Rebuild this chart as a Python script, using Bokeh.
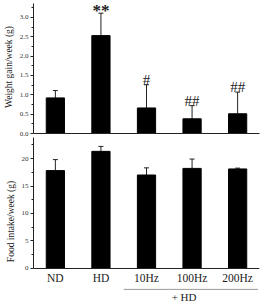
from bokeh.plotting import figure
from bokeh.layouts import column
from bokeh.models import (ColumnDataSource, Range1d, FixedTicker, Whisker, TeeHead,
                          Span, NumeralTickFormatter)
from bokeh.core.properties import value
from bokeh.embed import file_html
from bokeh.resources import INLINE

# ---- data ----
groups = ["ND", "HD", "10Hz", "100Hz", "200Hz"]
weight_gain = [0.92, 2.53, 0.66, 0.38, 0.51]
weight_err = [0.19, 0.58, 0.60, 0.34, 0.56]
weight_marks = ["", "**", "#", "##", "##"]
food_intake = [17.8, 21.3, 17.0, 18.2, 18.1]
food_err = [2.0, 0.9, 1.3, 1.7, 0.15]
weight_ticks = [0.0, 0.5, 1.0, 1.5, 2.0, 2.5, 3.0]
food_ticks = [0, 5, 10, 15, 20]
group_label = "+ HD"
group_members = ["10Hz", "100Hz", "200Hz"]

FONT = "Liberation Serif"
INK = "#222222"
xs = list(range(len(groups)))


def style(p, ticks, minor, top):
    p.outline_line_color = None
    p.xgrid.visible = False
    p.ygrid.visible = False
    p.yaxis.ticker = FixedTicker(ticks=ticks, minor_ticks=minor)
    p.yaxis.bounds = (0, top)
    p.yaxis.major_tick_out = 3
    p.yaxis.major_tick_in = 0
    p.yaxis.minor_tick_out = 2
    p.yaxis.minor_tick_in = 0
    p.yaxis.major_label_text_font = FONT
    p.yaxis.major_label_text_font_size = "7px"
    p.yaxis.major_label_text_color = "#333333"
    p.yaxis.major_label_standoff = 2
    p.yaxis.axis_label_text_font = FONT
    p.yaxis.axis_label_text_font_size = "9.5px"
    p.yaxis.axis_label_text_font_style = "normal"
    p.yaxis.axis_label_text_color = INK
    p.yaxis.axis_label_standoff = 3
    p.axis.axis_line_color = INK
    p.axis.major_tick_line_color = INK
    p.axis.minor_tick_line_color = INK


# ---- top panel: weight gain ----
upper1 = [v + e for v, e in zip(weight_gain, weight_err)]
src1 = ColumnDataSource(dict(x=xs, top=weight_gain, upper=upper1))
stars = [i for i, m in enumerate(weight_marks) if m.startswith("*")]
hashes = [i for i, m in enumerate(weight_marks) if m.startswith("#")]

W_TOP = 3.36
p1 = figure(width=260, height=137, x_range=Range1d(-0.48, 4.48),
            y_range=Range1d(0, W_TOP + 3 / 38.67),
            output_backend="svg", toolbar_location=None,
            min_border_left=33, min_border_right=1, min_border_top=0, min_border_bottom=4)
p1.vbar(x="x", top="top", width=0.4, bottom=0, color="black", source=src1)
p1.add_layout(Whisker(base="x", lower="top", upper="upper", source=src1,
                      upper_head=TeeHead(size=5, line_width=1, line_color=INK),
                      lower_head=None, line_width=1, line_color=INK))
p1.text(x=[xs[i] for i in stars], y=[upper1[i] for i in stars],
        text=[weight_marks[i] for i in stars], text_align="center",
        text_baseline="middle", y_offset=-3, text_font=value(FONT),
        text_font_size="17px", text_font_style="bold", text_color=INK)
p1.text(x=[xs[i] for i in hashes], y=[upper1[i] for i in hashes],
        text=[weight_marks[i] for i in hashes], text_align="center",
        text_baseline="alphabetic", y_offset=-5, text_font=value(FONT),
        text_font_size="15px", text_color=INK)
style(p1, weight_ticks, [0.25, 0.75, 1.25, 1.75, 2.25, 2.75, 3.25], W_TOP)
p1.yaxis.formatter = NumeralTickFormatter(format="0.0")
p1.yaxis.axis_label = "Weight gain/week (g)"
p1.xaxis.ticker = FixedTicker(ticks=[])
p1.xaxis.major_tick_out = 0
p1.xaxis.minor_tick_out = 0
p1.xaxis.major_label_standoff = 0

# ---- bottom panel: food intake ----
src2 = ColumnDataSource(dict(
    x=xs, top=food_intake,
    upper=[v + e for v, e in zip(food_intake, food_err)],
))
FOOD_TOP = 23.82
p2 = figure(width=260, height=168, x_range=Range1d(-0.48, 4.48),
            y_range=Range1d(-6.73, FOOD_TOP),
            output_backend="svg", toolbar_location=None,
            min_border_left=33, min_border_right=1, min_border_top=0, min_border_bottom=0)
p2.vbar(x="x", top="top", width=0.4, bottom=0, color="black", source=src2)
p2.add_layout(Whisker(base="x", lower="top", upper="upper", source=src2,
                      upper_head=TeeHead(size=5, line_width=1, line_color=INK),
                      lower_head=None, line_width=1, line_color=INK))
style(p2, food_ticks, [2.5, 7.5, 12.5, 17.5, 22.5], FOOD_TOP)
p2.yaxis.axis_label = "Food intake/week (g)"
p2.xaxis.visible = False
p2.add_layout(Span(location=0, dimension="width", line_color=INK, line_width=1))
p2.text(x=xs, y=[0] * len(xs), text=groups, text_align="center", text_baseline="top",
        y_offset=4, text_font=value(FONT), text_font_size="11.5px", text_color=INK)

gidx = [groups.index(g) for g in group_members]
line_start = gidx[0] - 0.5
line_end = p2.x_range.end - 0.03
p2.segment(x0=[line_start], y0=[-3.8], x1=[line_end], y1=[-3.8],
           line_color="#999999", line_width=1)
p2.text(x=[sum(gidx) / len(gidx)], y=[-5.2], text=[group_label], text_align="center",
        text_baseline="middle", x_offset=-8, text_font=value(FONT),
        text_font_size="11px", text_color=INK)

layout = column(p1, p2, spacing=0)
open("out.html", "w").write(file_html(layout, INLINE))
